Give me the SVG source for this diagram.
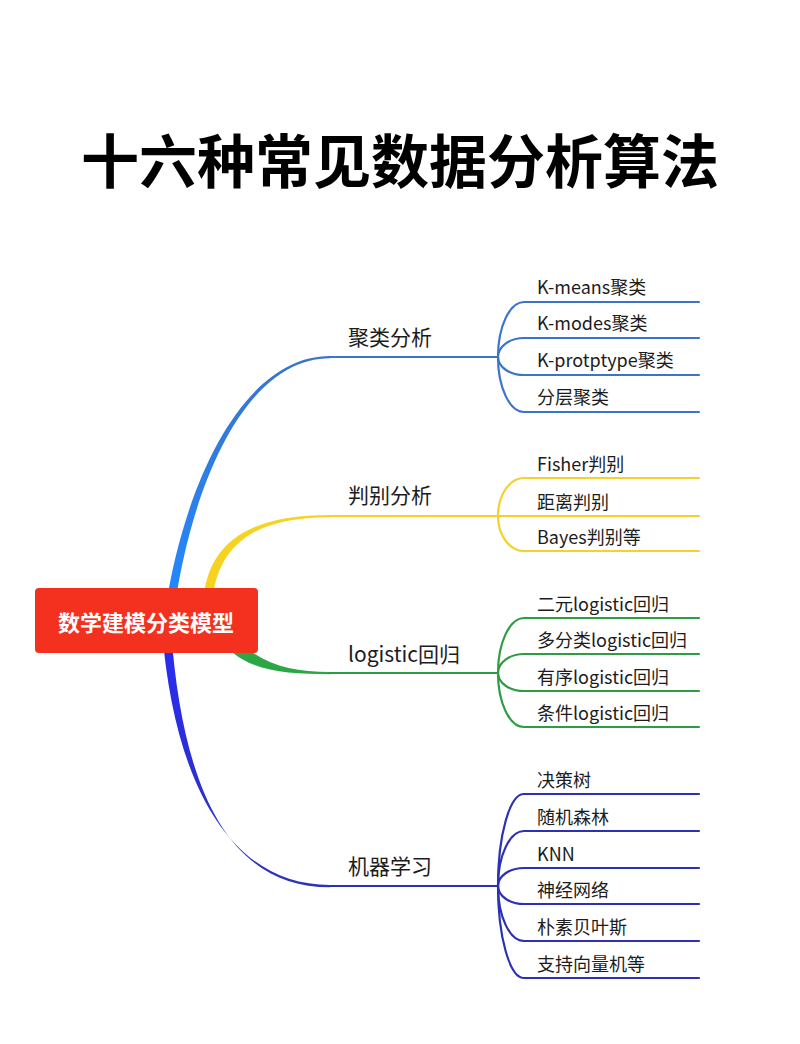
<svg xmlns="http://www.w3.org/2000/svg" width="800" height="1044" viewBox="0 0 800 1044">
<defs>
<linearGradient id="gBlue" gradientUnits="userSpaceOnUse" x1="0" y1="357" x2="0" y2="600">
<stop offset="0" stop-color="#3A74CC"/><stop offset="1" stop-color="#2288FF"/>
</linearGradient>
<linearGradient id="gNavy" gradientUnits="userSpaceOnUse" x1="0" y1="640" x2="0" y2="886">
<stop offset="0" stop-color="#2A2CF2"/><stop offset="1" stop-color="#2C33B8"/>
</linearGradient>
<style>
.t{font-family:"Noto Sans CJK SC","Microsoft YaHei",sans-serif;fill:#1c1c1c}
.main{font-size:21px}
.sub{font-size:18px}
.ln{fill:none;stroke-width:2.2;stroke-linecap:round}
.b{stroke:#3B74CB}
.y{stroke:#F3D22E}
.g{stroke:#2E9C45}
.n{stroke:#2C30B6}
</style>
</defs>
<rect width="800" height="1044" fill="#ffffff"/>
<text x="400" y="183" text-anchor="middle" font-family="'Noto Sans CJK SC','Microsoft YaHei',sans-serif" font-size="58" font-weight="700" fill="#000">十六种常见数据分析算法</text>

<g id="connectors">
<!-- main branches -->
<path d="M166,605 C186,480 244,356 330,356 L330,358.3 C246,358.3 193,482 175,605 Z" fill="url(#gBlue)"/>
<path class="ln b" d="M329,357 H498"/>
<path d="M203,605 C206,545 245,515 330,515 L330,517.3 C250,517.3 216,548 212,605 Z" fill="#F5D320"/>
<path class="ln y" d="M329,516 H498"/>
<path d="M238,640 C262,665 292,672 330,672 L330,674.3 C288,674.3 254,671 232,652 Z" fill="#2BA844"/>
<path class="ln g" d="M329,673 H498"/>
<path d="M162,630 C174,780 228,885 330,885 L330,887.3 C224,887.3 182,780 171,630 Z" fill="url(#gNavy)"/>
<path class="ln n" d="M329,886 H498"/>

<!-- blue forks -->
<path class="ln b" d="M498,357 A26,55 0 0 1 524,302 H699"/>
<path class="ln b" d="M498,357 A26,19 0 0 1 524,338 H699"/>
<path class="ln b" d="M498,357 A26,18 0 0 0 524,375 H699"/>
<path class="ln b" d="M498,357 A26,55 0 0 0 524,412 H699"/>
<!-- yellow forks -->
<path class="ln y" d="M498,516 A26,38 0 0 1 524,478 H699"/>
<path class="ln y" d="M498,516 H699"/>
<path class="ln y" d="M498,516 A26,35 0 0 0 524,551 H699"/>
<!-- green forks -->
<path class="ln g" d="M498,673 A26,55 0 0 1 524,618 H699"/>
<path class="ln g" d="M498,673 A26,19 0 0 1 524,654 H699"/>
<path class="ln g" d="M498,673 A26,18 0 0 0 524,691 H699"/>
<path class="ln g" d="M498,673 A26,54 0 0 0 524,727 H699"/>
<!-- navy forks -->
<path class="ln n" d="M498,886 A26,92 0 0 1 524,794 H699"/>
<path class="ln n" d="M498,886 A26,55 0 0 1 524,831 H699"/>
<path class="ln n" d="M498,886 A26,18 0 0 1 524,868 H699"/>
<path class="ln n" d="M498,886 A26,18 0 0 0 524,904 H699"/>
<path class="ln n" d="M498,886 A26,55 0 0 0 524,941 H699"/>
<path class="ln n" d="M498,886 A26,92 0 0 0 524,978 H699"/>
</g>

<g id="root">
<rect x="35" y="588" width="223" height="65" rx="4" fill="#F4301F"/>
<text x="146" y="631" text-anchor="middle" font-family="'Noto Sans CJK SC','Microsoft YaHei',sans-serif" font-size="22" font-weight="700" fill="#ffffff">数学建模分类模型</text>
</g>

<g id="cluster">
<text class="t main" x="348" y="345">聚类分析</text>
<text class="t sub" x="537" y="294">K-means聚类</text>
<text class="t sub" x="537" y="330">K-modes聚类</text>
<text class="t sub" x="537" y="367">K-protptype聚类</text>
<text class="t sub" x="537" y="404">分层聚类</text>
</g>

<g id="discriminant">
<text class="t main" x="348" y="503">判别分析</text>
<text class="t sub" x="537" y="471">Fisher判别</text>
<text class="t sub" x="537" y="509">距离判别</text>
<text class="t sub" x="537" y="544">Bayes判别等</text>
</g>

<g id="logistic">
<text class="t main" x="348" y="662">logistic回归</text>
<text class="t sub" x="537" y="611">二元logistic回归</text>
<text class="t sub" x="537" y="647">多分类logistic回归</text>
<text class="t sub" x="537" y="684">有序logistic回归</text>
<text class="t sub" x="537" y="720">条件logistic回归</text>
</g>

<g id="ml">
<text class="t main" x="348" y="874">机器学习</text>
<text class="t sub" x="537" y="787">决策树</text>
<text class="t sub" x="537" y="824">随机森林</text>
<text class="t sub" x="537" y="861">KNN</text>
<text class="t sub" x="537" y="897">神经网络</text>
<text class="t sub" x="537" y="934">朴素贝叶斯</text>
<text class="t sub" x="537" y="971">支持向量机等</text>
</g>
</svg>
